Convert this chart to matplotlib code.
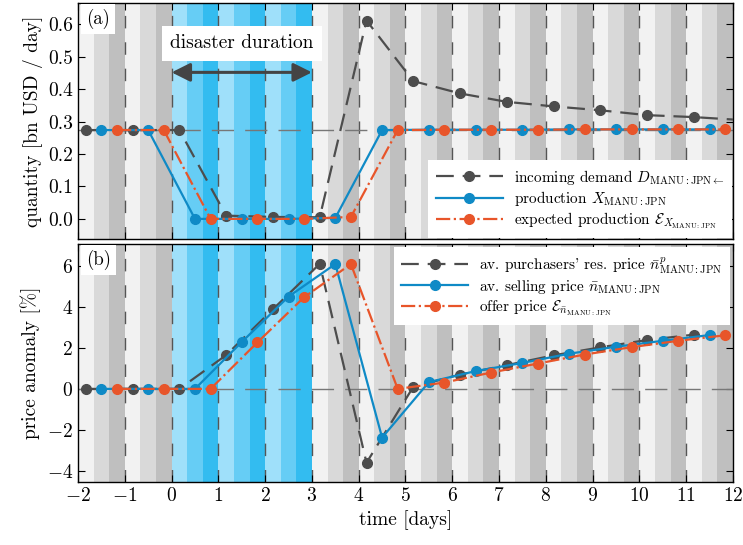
import matplotlib
matplotlib.use("Agg")
import matplotlib.pyplot as plt
import numpy as np

plt.rcParams.update({
    'font.family': 'serif',
    'font.serif': ['cmr10'],
    'mathtext.fontset': 'cm',
    'axes.formatter.use_mathtext': True,
    'axes.unicode_minus': True,
})

# ---- data ----
days = list(range(-2, 12))
t_gray = [d + 1/6 for d in days]
t_blue = [d + 0.5 for d in days]
t_orange = [d + 5/6 for d in days]

demand = [0.274, 0.274, 0.274, 0.010, 0.006, 0.005, 0.612, 0.425, 0.387, 0.361, 0.347, 0.335, 0.320, 0.314]
demand_next = 0.305
production = [0.274, 0.274, 0.0, 0.0, 0.0, 0.003, 0.274, 0.275, 0.275, 0.275, 0.276, 0.276, 0.276, 0.276]
exp_production = [0.274, 0.274, 0.0, 0.0, 0.0, 0.006, 0.274, 0.275, 0.275, 0.275, 0.276, 0.276, 0.276, 0.276]
baseline_a = 0.274

res_price = [0.0, 0.0, 0.0, 1.65, 3.89, 6.11, -3.61, 0.10, 0.70, 1.16, 1.64, 2.03, 2.39, 2.65]
sell_price = [0.0, 0.0, 0.0, 2.29, 4.51, 6.10, -2.38, 0.33, 0.87, 1.27, 1.72, 2.06, 2.35, 2.63]
offer_price = [0.0, 0.0, 0.0, 2.27, 4.48, 6.10, 0.0, 0.31, 0.80, 1.24, 1.68, 2.04, 2.35, 2.62]
baseline_b = 0.0

disaster_start, disaster_end = 0, 3
xlim = (-2, 12)

c_gray = '#4d4d4d'
c_blue = '#0f8ac6'
c_orange = '#e8552a'
grays = ['#f2f2f2', '#d9d9d9', '#bfbfbf']
blues = ['#9fe0fa', '#66cdf5', '#33bcf0']

fig = plt.figure(figsize=(7.43, 5.45), dpi=100)
axa = fig.add_axes([0.105, 0.5615, 0.8815, 0.433])
axb = fig.add_axes([0.105, 0.1156, 0.8815, 0.4367])

def background(ax):
    for d in days:
        pal = blues if disaster_start <= d < disaster_end else grays
        for i in range(3):
            ax.axvspan(d + i/3, d + (i+1)/3, color=pal[i], lw=0, zorder=0)
        if d > xlim[0]:
            ax.axvline(d, color='#555555', lw=1.0, ls=(0, (9, 10)), zorder=1)

def style(ax):
    ax.set_xlim(*xlim)
    ax.tick_params(direction='in', which='both', top=True, right=True, labelsize=14, length=5)
    for s in ax.spines.values():
        s.set_linewidth(1.0)

ms = 7
leg_kw = dict(fontsize=11, fancybox=False, framealpha=1, edgecolor='white',
              handlelength=4.4, labelspacing=0.15, handletextpad=0.7, borderpad=0.5)
# ---- panel a ----
background(axa)
axa.axhline(baseline_a, color='#777777', lw=1.0, ls=(0, (16, 8)), zorder=2)
axa.plot(t_gray + [12 + 1/6], demand + [demand_next], color=c_gray, ls=(0, (8, 4)), lw=1.6,
         marker='o', ms=ms, markevery=list(range(len(demand))), zorder=3,
         label=r'incoming demand $D_{\mathrm{MANU{:}JPN}\leftarrow}$')
axa.plot(t_blue, production, color=c_blue, ls='-', lw=1.6, marker='o', ms=ms, zorder=4,
         label=r'production $X_{\mathrm{MANU{:}JPN}}$')
axa.plot(t_orange, exp_production, color=c_orange, ls='-.', lw=1.6, marker='o', ms=ms, zorder=5,
         label=r'expected production $\mathcal{E}_{X_{\mathrm{MANU{:}JPN}}}$')
axa.set_ylim(-0.062, 0.666)
axa.set_yticks([0.0, 0.1, 0.2, 0.3, 0.4, 0.5, 0.6])
axa.set_yticklabels(['0.0', '0.1', '0.2', '0.3', '0.4', '0.5', '0.6'])
axa.set_xticks(range(-2, 13))
axa.tick_params(labelbottom=False)
style(axa)
axa.set_ylabel('quantity [bn USD / day]', fontsize=14)
leg = axa.legend(loc='lower right', borderaxespad=0.05, **leg_kw)
leg.get_frame().set_linewidth(0)
axa.text(0.012, 0.975, '(a)', transform=axa.transAxes, fontsize=13.5, va='top', ha='left',
         bbox=dict(facecolor='white', edgecolor='none', pad=3.5), zorder=10)
axa.annotate('', xy=(disaster_start, 0.452), xytext=(disaster_end, 0.452),
             arrowprops=dict(arrowstyle='<|-|>', color='#444444', lw=2.2, mutation_scale=28,
                             shrinkA=0, shrinkB=0), zorder=6)
axa.text((disaster_start + disaster_end) / 2, 0.542, 'disaster duration', fontsize=14,
         ha='center', va='center', bbox=dict(facecolor='white', edgecolor='none', pad=6), zorder=7)

# ---- panel b ----
background(axb)
axb.axhline(baseline_b, color='#777777', lw=1.0, ls=(0, (16, 8)), zorder=2)
axb.plot(t_gray, res_price, color=c_gray, ls=(0, (8, 4)), lw=1.6, marker='o', ms=ms, zorder=3,
         label=r"av. purchasers' res. price $\bar{n}^{p}_{\mathrm{MANU{:}JPN}}$")
axb.plot(t_blue, sell_price, color=c_blue, ls='-', lw=1.6, marker='o', ms=ms, zorder=4,
         label=r'av. selling price $\bar{n}_{\mathrm{MANU{:}JPN}}$')
axb.plot(t_orange, offer_price, color=c_orange, ls='-.', lw=1.6, marker='o', ms=ms, zorder=5,
         label=r'offer price $\mathcal{E}_{\bar{n}_{\mathrm{MANU{:}JPN}}}$')
axb.set_ylim(-4.55, 7.08)
axb.set_yticks([-4, -2, 0, 2, 4, 6])
axb.set_xticks(range(-2, 13))
style(axb)
axb.set_ylabel('price anomaly [%]', fontsize=14)
axb.set_xlabel('time [days]', fontsize=14)
leg = axb.legend(loc='upper right', borderaxespad=0.2, **leg_kw)
leg.get_frame().set_linewidth(0)
axb.text(0.012, 0.975, '(b)', transform=axb.transAxes, fontsize=13.5, va='top', ha='left',
         bbox=dict(facecolor='white', edgecolor='none', pad=3.5), zorder=10)

fig.savefig('out.png', dpi=100)
